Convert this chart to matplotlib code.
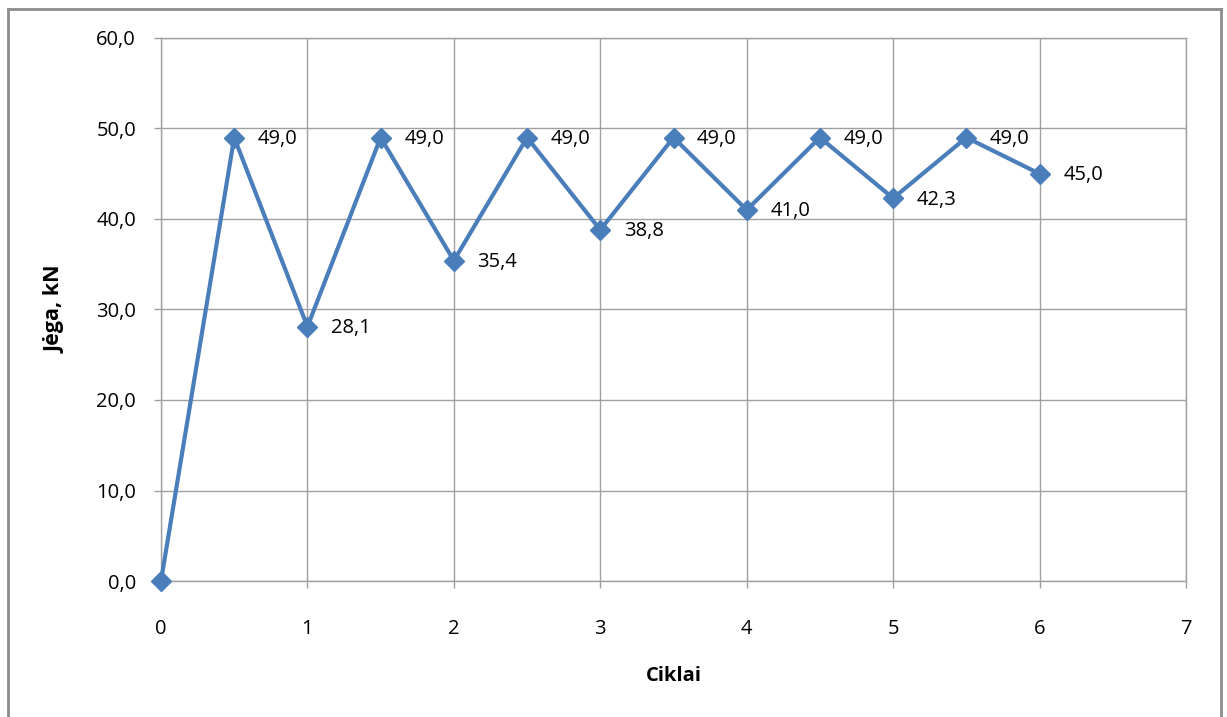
import numpy as np
import matplotlib.pyplot as plt
from matplotlib.lines import Line2D

plt.rc('font', family=['Open Sans', 'DejaVu Sans'])

ciklai = [0, 0.5, 1, 1.5, 2, 2.5, 3, 3.5, 4, 4.5, 5, 5.5, 6]
jega = [0.0, 49.0, 28.1, 49.0, 35.4, 49.0, 38.8, 49.0, 41.0, 49.0, 42.3, 49.0, 45.0]

fig = plt.figure(figsize=(12.27, 7.17), dpi=100)
ax = fig.add_axes([161/1227, 1 - 581/717, 1025/1227, 543/717])

ax.plot(ciklai, jega, '-D', color='#4a7ebb', lw=3, ms=10, clip_on=False, zorder=3)

# value labels (skip the origin point)
for x, y in zip(ciklai[1:], jega[1:]):
    ax.annotate(f'{y:.1f}'.replace('.', ','), (x, y), xytext=(17, -1),
                textcoords='offset points', va='center', ha='left', fontsize=14.5)

ax.set_xlim(0, 7)
ax.set_ylim(0, 60)
ax.set_xticks(range(8))
ax.set_yticks(np.arange(0, 61, 10))
ax.set_yticklabels([f'{v:.1f}'.replace('.', ',') for v in np.arange(0, 61, 10)])
gc = '#a0a0a0'
ax.grid(True, color=gc, lw=1)
ax.set_axisbelow(True)
for s in ax.spines.values():
    s.set_color(gc)
    s.set_linewidth(1)
ax.tick_params(axis='both', colors=gc, labelcolor='black', labelsize=14.5,
               length=5, width=1)
ax.tick_params(axis='y', pad=13)
ax.tick_params(axis='x', pad=22)

ax.set_xlabel('Ciklai', fontsize=14.5, fontweight='bold', labelpad=20)
ax.set_ylabel('Jėga, kN', fontsize=15.5, fontweight='bold', labelpad=22)

# outer chart frame
fc = '#8c8c8c'
fig.add_artist(Line2D([8/1227, 8/1227], [0, 1 - 9/717], transform=fig.transFigure, color=fc, lw=2))
fig.add_artist(Line2D([8/1227, 1221/1227], [1 - 9/717, 1 - 9/717], transform=fig.transFigure, color=fc, lw=2))
fig.add_artist(Line2D([1221/1227, 1221/1227], [0, 1 - 9/717], transform=fig.transFigure, color=fc, lw=2))

fig.savefig('out.png', dpi=100)
